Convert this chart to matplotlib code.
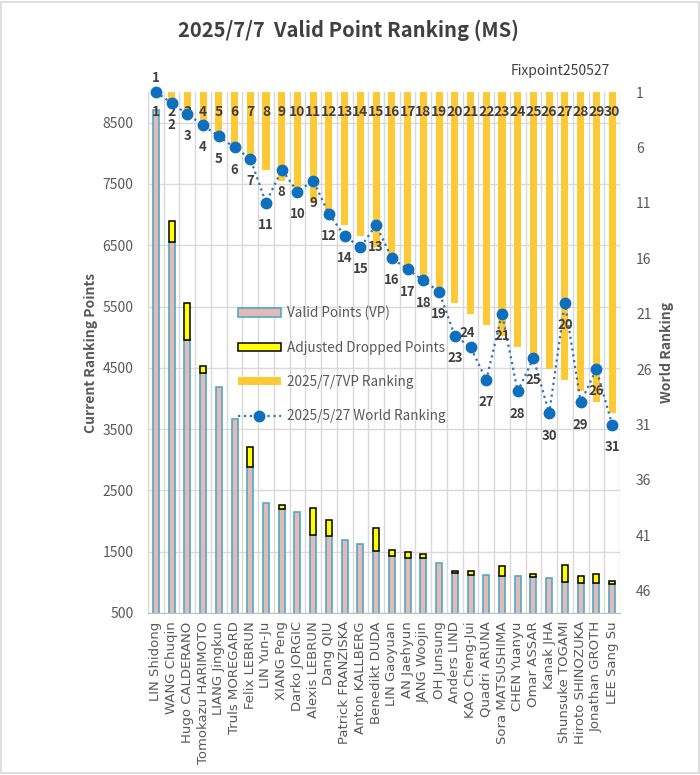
import matplotlib
matplotlib.use("Agg")
import matplotlib.pyplot as plt
import numpy as np
from matplotlib.lines import Line2D
from matplotlib.patches import Patch, Rectangle

plt.rcParams["font.family"] = ["Noto Sans CJK JP", "DejaVu Sans"]

players = [
    "LIN Shidong", "WANG Chuqin", "Hugo CALDERANO", "Tomokazu HARIMOTO",
    "LIANG Jingkun", "Truls MOREGARD", "Felix LEBRUN", "LIN Yun-Ju",
    "XIANG Peng", "Darko JORGIC", "Alexis LEBRUN", "Dang QIU",
    "Patrick FRANZISKA", "Anton KALLBERG", "Benedikt DUDA", "LIN Gaoyuan",
    "AN Jaehyun", "JANG Woojin", "OH Junsung", "Anders LIND",
    "KAO Cheng-Jui", "Quadri ARUNA", "Sora MATSUSHIMA", "CHEN Yuanyu",
    "Omar ASSAR", "Kanak JHA", "Shunsuke TOGAMI", "Hiroto SHINOZUKA",
    "Jonathan GROTH", "LEE Sang Su",
]
valid_points = [8700, 6550, 4960, 4410, 4180, 3660, 2885, 2300, 2200, 2145,
                1780, 1760, 1685, 1625, 1510, 1430, 1400, 1390, 1310, 1150,
                1125, 1122, 1110, 1105, 1092, 1065, 1003, 995, 985, 972]
dropped_points = [0, 350, 600, 120, 0, 0, 325, 0, 55, 0,
                  430, 265, 0, 0, 370, 100, 95, 80, 0, 30,
                  60, 0, 155, 0, 50, 0, 280, 115, 145, 55]
vp_ranking = [1, 2, 3, 4, 5, 6, 7, 8, 9, 10, 11, 12, 13, 14, 15,
              16, 17, 18, 19, 20, 21, 22, 23, 24, 25, 26, 27, 28, 29, 30]
world_ranking = [1, 2, 3, 4, 5, 6, 7, 11, 8, 10, 9, 12, 14, 15, 13,
                 16, 17, 18, 19, 23, 24, 27, 21, 28, 25, 30, 20, 29, 26, 31]
left_ticks = [500, 1500, 2500, 3500, 4500, 5500, 6500, 7500, 8500]
right_ticks = [1, 6, 11, 16, 21, 26, 31, 36, 41, 46]

TEXT = "#595959"
DARK = "#404040"
PINK = "#E6B9B8"
EDGE_BLUE = "#4BACC6"
YELLOW = "#FFFF00"
ORANGE = "#FFC936"
DOT_BLUE = "#0F6FBF"
GRID = "#D9D9D9"

fig = plt.figure(figsize=(7, 7.75), dpi=100)
ax = fig.add_axes([148 / 700, 162 / 775, 472 / 700, 521 / 775])
x = np.arange(len(players))
vp = np.array(valid_points)
dp = np.array(dropped_points)

ax.bar(x, vp, width=0.38, color=PINK, edgecolor=EDGE_BLUE, linewidth=1.2, zorder=2)
has_drop = dp > 0
ax.bar(x[has_drop], dp[has_drop], bottom=vp[has_drop], width=0.38,
       color=YELLOW, edgecolor="black", linewidth=1.1, zorder=2)

ax.set_xlim(-0.5, len(players) - 0.5)
ax.set_ylim(500, 9000)
ax.set_yticks(left_ticks)
ax.set_xticks(x)
ax.set_xticks(np.arange(-0.5, len(players), 1), minor=True)
ax.tick_params(axis="both", which="both", length=0)
ax.tick_params(axis="y", labelsize=10, labelcolor=TEXT, pad=10.5)
ax.tick_params(axis="x", pad=6)
ax.set_xticklabels(players, rotation=90, fontsize=9.5, color=TEXT, family="DejaVu Sans")
ax.yaxis.grid(True, color=GRID, linewidth=1)
ax.xaxis.grid(True, which="minor", color=GRID, linewidth=1)
ax.xaxis.grid(False, which="major")
ax.set_axisbelow(True)
for side in ["top", "right"]:
    ax.spines[side].set_visible(False)
ax.spines["left"].set_color(GRID)
ax.spines["bottom"].set_color("#BFBFBF")
ax.set_ylabel("Current Ranking Points", fontsize=10, fontweight="bold", color=TEXT, labelpad=3)

ax2 = ax.twinx()
vr = np.array(vp_ranking)
ax2.bar(x, vr - 1, bottom=1, width=0.45, color=ORANGE, linewidth=0, zorder=2)
for xi, r in zip(x, vp_ranking):
    ax2.text(xi, 2.8, str(r), ha="center", va="center", fontsize=10,
             fontweight="bold", color=DARK, zorder=4)

ax2.plot(x, world_ranking, linestyle=":", color="#2E75B6", linewidth=1.6,
         marker="o", markersize=7.5, markerfacecolor=DOT_BLUE,
         markeredgecolor=DOT_BLUE, zorder=5, clip_on=False)
for i, (xi, r) in enumerate(zip(x, world_ranking)):
    if i == 0:
        off = (0, 10)
    elif r == 24:
        off = (-2.7, 10)
    else:
        off = (0, -16)
    ax2.annotate(str(r), (xi, r), xytext=off, textcoords="offset points",
                 ha="center", va="center", fontsize=9.5, fontweight="bold",
                 color=DARK, zorder=6)

ax2.set_ylim(48, 1)
ax2.set_yticks(right_ticks)
ax2.tick_params(axis="y", length=0, labelsize=10, labelcolor=TEXT, pad=11.5)
for side in ["top", "right", "left", "bottom"]:
    ax2.spines[side].set_visible(False)
ax2.set_ylabel("World Ranking", fontsize=10, fontweight="bold", color=TEXT, labelpad=6)

handles = [
    Patch(facecolor=PINK, edgecolor=EDGE_BLUE, linewidth=1.2),
    Patch(facecolor=YELLOW, edgecolor="black", linewidth=1.1),
    Patch(facecolor=ORANGE, edgecolor="none"),
    Line2D([], [], linestyle=":", color="#2E75B6", linewidth=1.6, marker="o",
           markersize=7.5, markerfacecolor=DOT_BLUE, markeredgecolor=DOT_BLUE),
]
labels = ["Valid Points (VP)", "Adjusted Dropped Points",
          "2025/7/7VP Ranking", "2025/5/27 World Ranking"]
fig.legend(handles, labels, loc="upper left", bbox_to_anchor=(231 / 700, 1 - 299 / 775),
           frameon=False, fontsize=9.75, handlelength=3.2, handleheight=0.6,
           handletextpad=0.45, labelspacing=1.5, borderpad=0, labelcolor=TEXT)

fig.text(348 / 700, 1 - 30 / 775, "2025/7/7  Valid Point Ranking (MS)", ha="center",
         va="center", fontsize=14.5, fontweight="bold", color=DARK)
fig.text(610 / 700, 1 - 71 / 775, "Fixpoint250527", ha="right", va="center",
         fontsize=10, color=DARK)
fig.patches.append(Rectangle((0.002, 0.002), 0.996, 0.996, transform=fig.transFigure,
                             fill=False, edgecolor=GRID, linewidth=1.2))

fig.savefig("out.png", dpi=100)
